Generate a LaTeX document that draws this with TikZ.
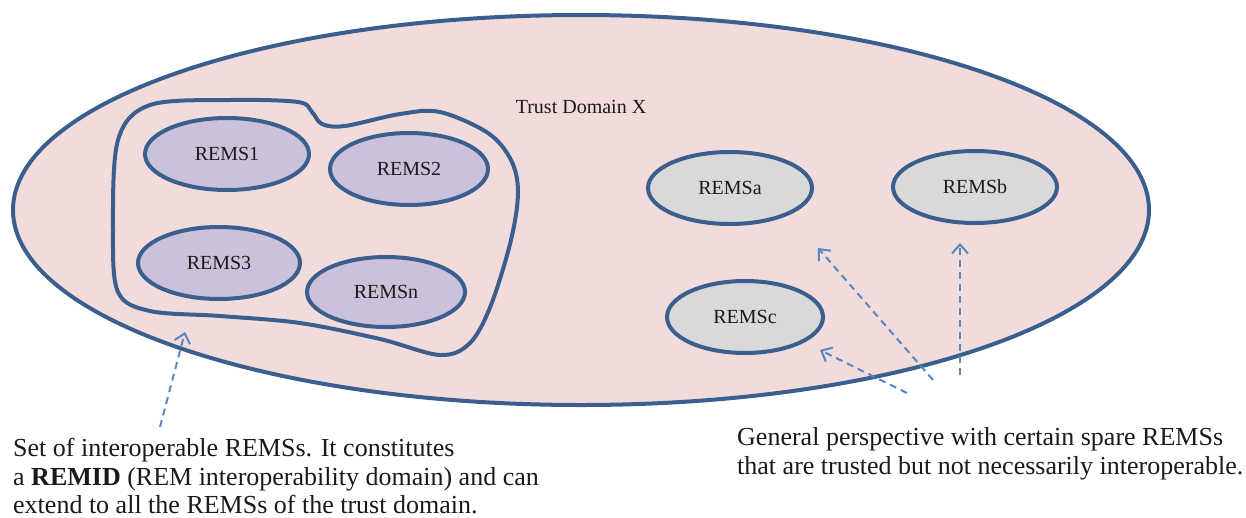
\documentclass[tikz,border=0pt]{standalone}
\usepackage{fontspec}
\setmainfont{Liberation Serif}
\usetikzlibrary{shapes.geometric,arrows.meta}
\definecolor{domfill}{HTML}{F2DCDB}
\definecolor{edge}{HTML}{3A5F8F}
\definecolor{lav}{HTML}{CCC1DA}
\definecolor{grayfill}{HTML}{D9D9D9}
\definecolor{arrowc}{HTML}{5A86C5}
\definecolor{txt}{HTML}{1A1A1A}
\tikzset{
  remsbox/.style={ellipse, draw=edge, line width=4pt, inner sep=0pt, text=txt,
    font=\fontsize{20}{23}\selectfont},
  remsin/.style={remsbox, fill=lav},
  remsout/.style={remsbox, fill=grayfill},
  hint/.style={draw=arrowc, line width=2pt, dash pattern=on 7pt off 5pt,
    -{Straight Barb[length=9pt,width=16pt,line width=2pt]}},
  caption/.style={anchor=base west, inner sep=0pt, text=txt,
    font=\fontsize{26}{30}\selectfont}
}
\begin{document}
\begin{tikzpicture}[x=1pt,y=-1pt]
\useasboundingbox (0,0) rectangle (1246,517);
% trust domain
\node[ellipse, draw=edge, fill=domfill, line width=4pt, inner sep=0pt,
  minimum width=1136pt, minimum height=390pt] (domain) at (581,210) {};
\node[text=txt, font=\fontsize{20}{24}\selectfont] (title) at (581,107) {Trust Domain X};
% REMID blob
\draw[edge, line width=4pt] plot[smooth cycle, tension=0.55] coordinates {
  (113,230) (118,140) (150,105) (230,100) (298,102) (312,112) (322,124)
  (345,126) (400,114) (440,112) (488,133) (511,160) (518,192) (511,240)
  (491,305) (470,343) (440,355) (380,339) (300,323) (220,316) (150,311) (118,292)};
\node[remsin, minimum width=164pt, minimum height=72pt] (r1) at (227,154) {REMS1};
\node[remsin, minimum width=158pt, minimum height=72pt] (r2) at (409,169) {REMS2};
\node[remsin, minimum width=162pt, minimum height=72pt] (r3) at (219,263) {REMS3};
\node[remsin, minimum width=158pt, minimum height=70pt] (rn) at (386,292) {REMSn};
% spare REMSs
\node[remsout, minimum width=164pt, minimum height=72pt] (ra) at (730,188) {REMSa};
\node[remsout, minimum width=164pt, minimum height=72pt] (rb) at (975,187) {REMSb};
\node[remsout, minimum width=156pt, minimum height=72pt] (rc) at (745,317) {REMSc};
% arrows
\coordinate (tl) at (160,427); \coordinate (hl) at (185,332);
\coordinate (ta) at (933,380); \coordinate (ha) at (818,248);
\coordinate (tc) at (907,393); \coordinate (hc) at (820,350);
\coordinate (tb) at (960,375); \coordinate (hb) at (960,243);
\draw[hint] (tl) -- (hl);
\draw[hint] (ta) -- (ha);
\draw[hint] (tc) -- (hc);
\draw[hint] (tb) -- (hb);
% captions
\node[caption] (l1) at (13,456) {Set of interoperable REMSs. It constitutes};
\node[caption] (l2) at (13,485) {a \textbf{REMID} (REM interoperability domain) and can};
\node[caption] (l3) at (13,513) {extend to all the REMSs of the trust domain.};
\node[caption] (g1) at (737,445) {General perspective with certain spare REMSs};
\node[caption] (g2) at (737,474) {that are trusted but not necessarily interoperable.};
\end{tikzpicture}
\end{document}
